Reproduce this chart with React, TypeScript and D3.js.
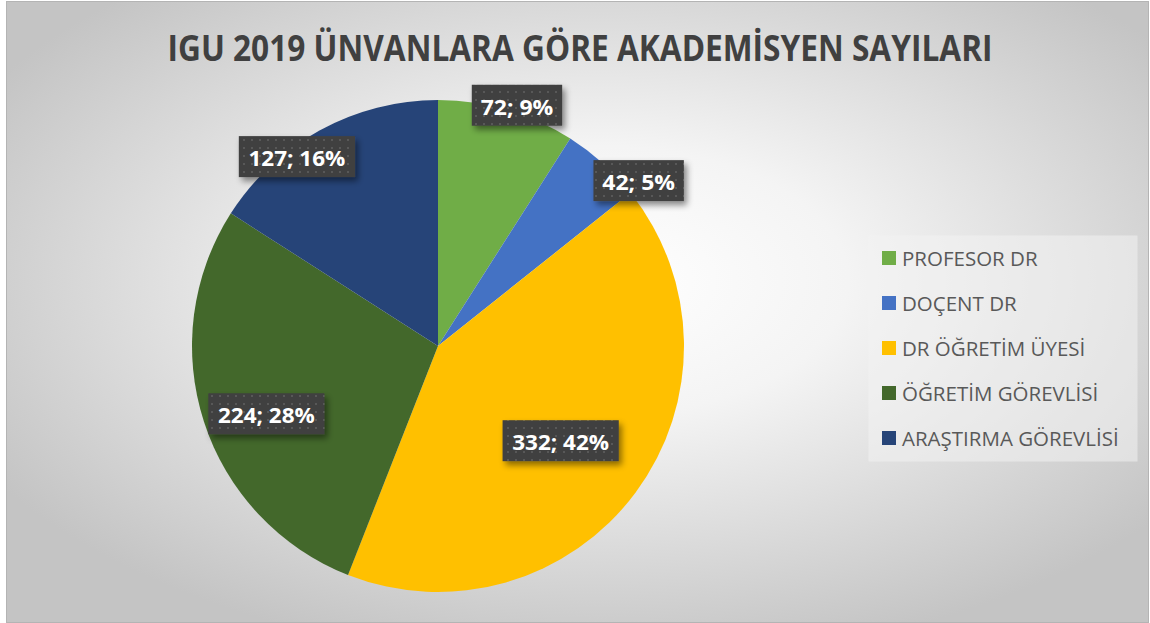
import React from "react";
import * as d3 from "d3";

const categories = ["PROFESOR DR", "DOÇENT DR", "DR ÖĞRETİM ÜYESİ", "ÖĞRETİM GÖREVLİSİ", "ARAŞTIRMA GÖREVLİSİ"];
const values = [72, 42, 332, 224, 127];
const percentLabels = ["9%", "5%", "42%", "28%", "16%"];
const colors = ["#70AD47", "#4472C4", "#FFC000", "#43682B", "#264478"];
const title = "IGU 2019 ÜNVANLARA GÖRE AKADEMİSYEN SAYILARI";

// label placement (Excel "best fit"): radius fraction and angle offset (deg) from slice mid
const labelRadius = [1.03, 1.057, 0.63, 0.75, 0.96];
const labelShift = [1.9, 8.5, 1.2, -3.6, -8];

const W = 1150;
const H = 623;
const cx = 438;
const cy = 346;
const R = 246;

export default function App() {
  const pie = d3.pie<number>().sort(null).value((d) => d)(values);
  const arc = d3.arc<d3.PieArcDatum<number>>().innerRadius(0).outerRadius(R);
  const legendY = d3.scalePoint<string>().domain(categories).range([258, 438]);

  return (
    <svg width={W} height={H} style={{ position: "absolute", left: 0, top: 0 }} fontFamily="'Open Sans', sans-serif">
      <defs>
        <radialGradient id="bg" cx="52%" cy="45%" r="62%">
          <stop offset="0%" stopColor="#ffffff" />
          <stop offset="35%" stopColor="#f4f4f4" />
          <stop offset="100%" stopColor="#c4c4c4" />
        </radialGradient>
        <pattern id="dots" width="8" height="8" patternUnits="userSpaceOnUse">
          <rect width="8" height="8" fill="#404040" />
          <rect x="3" y="3" width="2" height="2" fill="#585858" />
        </pattern>
        <filter id="shadow" x="-20%" y="-30%" width="150%" height="180%">
          <feDropShadow dx="3" dy="4" stdDeviation="3" floodColor="#000" floodOpacity="0.45" />
        </filter>
      </defs>
      <rect x={6.5} y={1.5} width={W - 8} height={H - 2} fill="url(#bg)" stroke="#b4b4b4" strokeWidth={1} />
      <text x={580} y={47} textAnchor="middle" dominantBaseline="central" fontSize={35} fontWeight={700} fill="#404040" textLength={825} lengthAdjust="spacingAndGlyphs">
        {title}
      </text>
      <g transform={`translate(${cx},${cy})`}>
        {pie.map((p, i) => (
          <path key={i} d={arc(p) || ""} fill={colors[i]} />
        ))}
      </g>
      {pie.map((p, i) => {
        const mid = (p.startAngle + p.endAngle) / 2 + (labelShift[i] * Math.PI) / 180;
        const r = R * labelRadius[i];
        const x = cx + r * Math.sin(mid);
        const y = cy - r * Math.cos(mid);
        const txt = `${values[i]}; ${percentLabels[i]}`;
        const w = txt.length * 12.9 + 13;
        const h = 41;
        return (
          <g key={i}>
            <rect x={x - w / 2} y={y - h / 2} width={w} height={h} fill="url(#dots)" filter="url(#shadow)" />
            <text x={x} y={y + 1} textAnchor="middle" dominantBaseline="central" fontSize={21.5} fontWeight={700} fill="#ffffff" textLength={txt.length * 12.1} lengthAdjust="spacingAndGlyphs">
              {txt}
            </text>
          </g>
        );
      })}
      <rect x={868.5} y={235.5} width={269} height={226} fill="#f2f2f2" fillOpacity={0.55} />
      {categories.map((c, i) => (
        <g key={c}>
          <rect x={882} y={(legendY(c) as number) - 7} width={14} height={14} fill={colors[i]} />
          <text x={902} y={legendY(c)} dominantBaseline="central" fontSize={20.5} fill="#595959">
            {c}
          </text>
        </g>
      ))}
    </svg>
  );
}
